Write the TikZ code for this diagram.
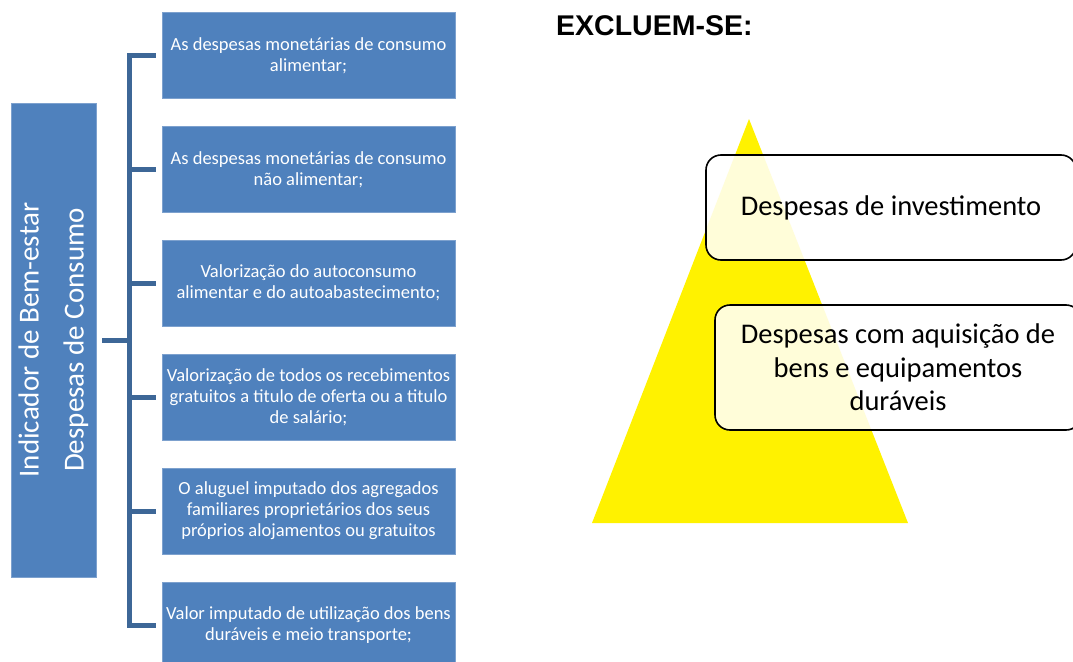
\documentclass[tikz,border=0pt]{standalone}
\usepackage{fontspec}
\setmainfont{Carlito}
\newfontfamily\arialfont{Liberation Sans}
\definecolor{boxblue}{HTML}{4F81BD}
\definecolor{boxedge}{HTML}{7DA1CE}
\definecolor{bracketblue}{HTML}{3D6797}
\begin{document}
\begin{tikzpicture}[x=1pt, y=-1pt,
                item/.style={rectangle, draw=boxedge, fill=boxblue, text=white, minimum width=293, minimum height=86, inner sep=0, align=center, font=\fontsize{18.5}{21}\selectfont},
                bigbox/.style={rectangle, draw=boxedge, fill=boxblue, text=white, minimum width=474, minimum height=85, inner sep=0, align=center, rotate=90, font=\fontsize{29}{45}\selectfont},
                excl/.style={rectangle, rounded corners=15, draw, line width=1.6, fill=white, fill opacity=0.85, text opacity=1, inner sep=0, align=center, font=\fontsize{28.5}{33.5}\selectfont},
                brace/.style={draw=bracketblue, line width=5}
            ]
            \useasboundingbox (0,0) rectangle (1073,661);
            \clip (0,0) rectangle (1073,661);

            % Left block
            \node[bigbox] (ind) at (53.5, 340) {Indicador de Bem-estar\\Despesas de Consumo};

            % Items
            \node[item] (b1) at (308.5, 55.5) {As despesas monetárias de consumo\\alimentar;};
            \node[item] (b2) at (308.5, 169.5) {As despesas monetárias de consumo\\não alimentar;};
            \node[item] (b3) at (308.5, 283) {Valorização do autoconsumo\\alimentar e do autoabastecimento;};
            \node[item] (b4) at (308.5, 397) {Valorização de todos os recebimentos\\gratuitos a titulo de oferta ou a titulo\\de salário;};
            \node[item] (b5) at (308.5, 511) {O aluguel imputado dos agregados\\familiares proprietários dos seus\\próprios alojamentos ou gratuitos};
            \node[item] (b6) at (308.5, 625) {Valor imputado de utilização dos bens\\duráveis e meio transporte;};

            % Bracket
            \coordinate (spine) at (129.5, 340);
            \draw[brace, shorten <=6] (ind.south) -- (ind.south -| spine);
            \draw[brace, line cap=rect] (b1.west -| spine) -- (b6.west -| spine);
            \foreach \b in {b1,b2,b3,b4,b5,b6}
                \draw[brace, shorten >=6] (\b.west -| spine) -- (\b.west);

            % Right side
            \node[anchor=base west, inner sep=0, font=\arialfont\bfseries\fontsize{28.5}{33}\selectfont] (title) at (556, 36) {EXCLUEM-SE:};
            \fill[yellow] (749, 119) -- (908, 523) -- (592, 523) -- cycle;
            \node[excl, minimum width=370, minimum height=105] (inv) at (891, 207.5) {Despesas de investimento};
            \node[excl, minimum width=366, minimum height=125] (dur) at (898, 367.5) {Despesas com aquisição de\\bens e equipamentos\\duráveis};

        \end{tikzpicture}
\end{document}
